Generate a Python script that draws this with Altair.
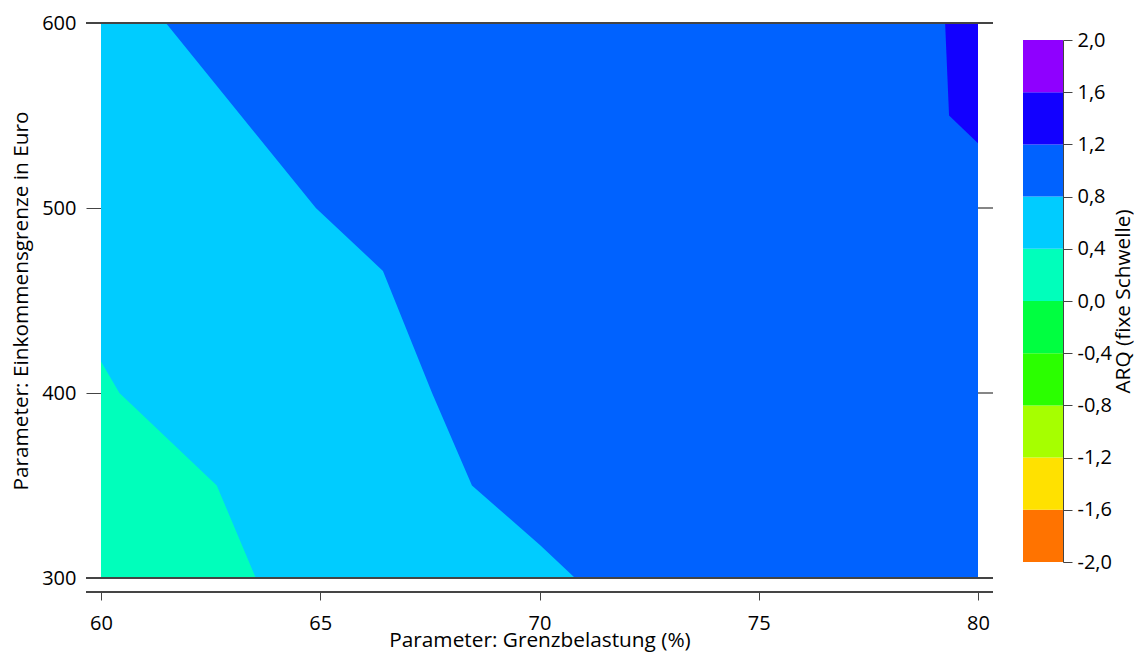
import altair as alt
import pandas as pd

# ---- data ----
band_lo = [-2.0, -1.6, -1.2, -0.8, -0.4, 0.0, 0.4, 0.8, 1.2, 1.6]
band_hi = [-1.6, -1.2, -0.8, -0.4, 0.0, 0.4, 0.8, 1.2, 1.6, 2.0]
band_colors = ["#FF7300", "#FFE100", "#A6FF00", "#2BFF00", "#00FF40",
               "#00FFBB", "#00CCFF", "#0062FF", "#1200FF", "#8F00FF"]
band_names = [f"{lo:.1f}..{hi:.1f}" for lo, hi in zip(band_lo, band_hi)]

x_domain = [60, 80]
y_domain = [300, 600]
x_ticks = [60, 65, 70, 75, 80]
y_ticks = [300, 400, 500, 600]
cbar_ticks = [-2.0, -1.6, -1.2, -0.8, -0.4, 0.0, 0.4, 0.8, 1.2, 1.6, 2.0]

# contour boundary 0.8 (between 0.4..0.8 and 0.8..1.2)
c08_y = [300, 317.8, 350, 400, 466, 500, 600]
c08_x = [70.81, 70.01, 68.46, 67.55, 66.43, 64.90, 61.48]
# contour boundary 0.4 (between 0.0..0.4 and 0.4..0.8)
c04_y = [300, 350, 400, 417]
c04_x = [63.53, 62.64, 60.42, 60.0]
# contour boundary 1.2 (between 0.8..1.2 and 1.2..1.6)
c12_y = [535, 550, 600]
c12_x = [80.0, 79.34, 79.25]

FONT = "Open Sans"
LINE = "#444444"

color_scale = alt.Scale(domain=band_names, range=band_colors)

x_axis = alt.Axis(values=x_ticks, orient="bottom", offset=14, domain=False,
                  tickSize=8, tickColor=LINE, grid=False, format="d",
                  labelFlush=False, labelPadding=29, labelBaseline="alphabetic",
                  title="Parameter: Grenzbelastung (%)",
                  titleBaseline="alphabetic", titleY=54)
y_axis = alt.Axis(values=y_ticks, orient="left", domain=False, tickSize=15,
                  tickColor=LINE, grid=False, format="d", labelPadding=10,
                  labelFlush=False,
                  title="Parameter: Einkommensgrenze in Euro",
                  titleAngle=270, titleBaseline="alphabetic", titleX=-74)
x_scale = alt.Scale(domain=x_domain, nice=False, zero=False)
y_scale = alt.Scale(domain=y_domain, nice=False, zero=False)

bg_df = pd.DataFrame({"x0": [x_domain[0]], "x1": [x_domain[1]],
                      "y0": [y_domain[0]], "y1": [y_domain[1]],
                      "band": [band_names[7]]})
bg = alt.Chart(bg_df).mark_rect().encode(
    x=alt.X("x0:Q", scale=x_scale, axis=x_axis),
    x2="x1:Q",
    y=alt.Y("y0:Q", scale=y_scale, axis=y_axis),
    y2="y1:Q",
    color=alt.Color("band:N", scale=color_scale, legend=None),
)

def region(ys, xs, base, band):
    df = pd.DataFrame({"y": ys, "x": xs, "base": [base] * len(ys),
                       "band": [band] * len(ys)})
    return alt.Chart(df).mark_area(orient="horizontal", interpolate="linear",
                                   fill=band_colors[band_names.index(band)],
                                   opacity=1).encode(
        y=alt.Y("y:Q", scale=y_scale, axis=y_axis),
        x=alt.X("x:Q", scale=x_scale, axis=x_axis, stack=None),
        x2="base:Q",
    )

light = region(c08_y, c08_x, x_domain[0], band_names[6])
teal = region(c04_y, c04_x, x_domain[0], band_names[5])
dark = region(c12_y, c12_x, x_domain[1], band_names[8])

rt_df = pd.DataFrame({"t": y_ticks})
right_ticks = alt.Chart(rt_df).mark_rule(color=LINE, strokeWidth=1.3).encode(
    y=alt.Y("t:Q", scale=y_scale, axis=y_axis),
    x=alt.value(877), x2=alt.value(892),
)

frame_top = alt.Chart(rt_df).mark_rule(color=LINE, strokeWidth=1.3).encode(
    x=alt.value(-15), x2=alt.value(892), y=alt.value(0))
frame_bot = alt.Chart(rt_df).mark_rule(color=LINE, strokeWidth=1.3).encode(
    x=alt.value(-15), x2=alt.value(892), y=alt.value(555))
x_line = alt.Chart(rt_df).mark_rule(color=LINE, strokeWidth=1.3).encode(
    x=alt.value(-15), x2=alt.value(892), y=alt.value(569))

main = alt.layer(bg, light, teal, dark, right_ticks, frame_top, frame_bot, x_line)

cb_df = pd.DataFrame({"lo": band_lo, "hi": band_hi, "band": band_names})
cbar = alt.Chart(cb_df).mark_rect().encode(
    x=alt.value(922), x2=alt.value(962),
    y=alt.Y("lo:Q",
            scale=alt.Scale(domain=[-2, 2], range=[539, 17], nice=False, zero=False),
            axis=alt.Axis(orient="right", offset=85, values=cbar_ticks,
                          tickSize=9, tickColor=LINE, domainColor=LINE,
                          grid=False, labelPadding=5, labelFlush=False,
                          labelExpr="replace(replace(format(datum.value, '.1f'), '.', ','), '\u2212', '-')",
                          title="ARQ (fixe Schwelle)", titleAngle=270,
                          titleBaseline="alphabetic", titleX=66, titleY=278)),
    y2="hi:Q",
    color=alt.Color("band:N", scale=color_scale, legend=None),
)

chart = alt.layer(main, cbar).resolve_scale(y="independent").resolve_axis(
    y="independent"
).properties(
    width=877, height=555,
    autosize=alt.AutoSizeParams(type="none"),
    padding={"left": 93, "top": 15, "right": 156, "bottom": 74},
).configure_view(stroke=None).configure_axis(
    labelFont=FONT, titleFont=FONT, labelFontSize=20, titleFontSize=20.8,
    labelColor="#000000", titleColor="#000000", titleFontWeight="normal",
)

chart.save("out.html", embed_options={"renderer": "svg", "actions": False})
